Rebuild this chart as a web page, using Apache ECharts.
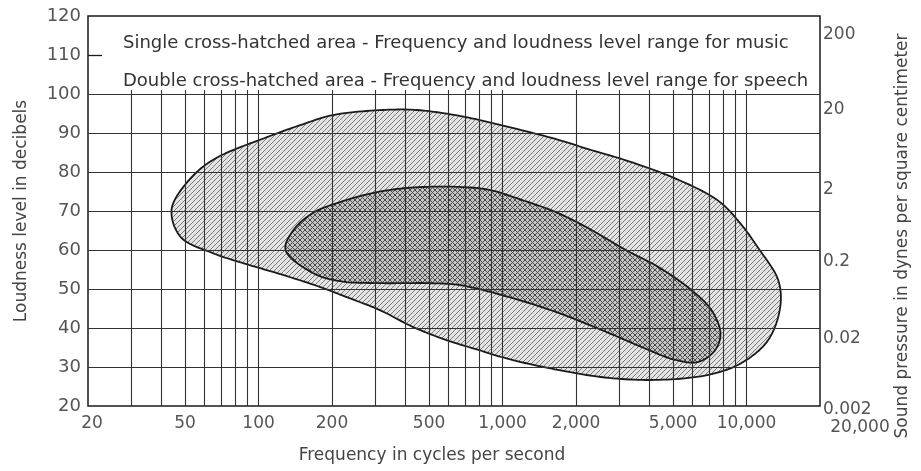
<!DOCTYPE html>
<html>
<head>
<meta charset="utf-8">
<script src="https://cdn.jsdelivr.net/npm/echarts@6/dist/echarts.min.js"></script>
<style>
  html, body { margin: 0; padding: 0; background: #fff; }
  #chart { width: 921px; height: 471px; }
</style>
</head>
<body>
<div id="chart"></div>
<script>
// outline of the music range (frequency in Hz, loudness in dB)
var musicFreq = [44, 51, 65, 109, 148, 202, 323, 445, 666, 1066, 1706, 2260, 3200, 5120, 7670, 9520, 11170, 13480, 13740, 12270, 9520, 6980, 4365, 2730, 1706, 1066, 804, 589, 428, 314, 230, 179, 123, 90, 65, 48]
var musicDb = [70.3, 77.4, 83.1, 89, 92, 94.6, 95.9, 95.9, 94.4, 91.5, 88.2, 85.8, 83.0, 78.3, 72.6, 66.5, 60.5, 52.3, 45.4, 36.9, 31, 28, 26.7, 27.2, 29.2, 32.0, 34.3, 36.9, 40.3, 44.6, 47.9, 50.5, 53.8, 56.3, 59.2, 63.3]

// outline of the speech range
var speechFreq = [129, 139, 167, 216, 294, 405, 647, 883, 1205, 1656, 2260, 3200, 4365, 5950, 7180, 7820, 7450, 6350, 5120, 3720, 2730, 1706, 1066, 666, 502, 314, 216, 167]
var speechDb = [60, 65.1, 69.5, 72.3, 74.6, 75.9, 76.2, 75.4, 72.8, 69.7, 65.5, 60, 55.6, 49.7, 44.6, 38.7, 34.4, 31.3, 31.8, 35.1, 38.7, 43.8, 47.9, 51, 51.5, 51.5, 52, 54.1]

// axes
var freqLabels = [20, 50, 100, 200, 500, 1000, 2000, 5000, 10000, 20000]
var freqLabelText = ['20', '50', '100', '200', '500', '1,000', '2,000', '5,000', '10,000', '20,000']
var gridFreqs = [30, 40, 50, 60, 70, 80, 90, 100, 200, 300, 400, 500, 600, 700, 800, 900, 1000, 2000, 3000, 4000, 5000, 6000, 7000, 8000, 9000, 10000]
var gridDb = [30, 40, 50, 60, 70, 80, 90, 100]
var pressureLabels = ['0.002', '0.02', '0.2', '2', '20', '200']
var noteLines = [
  'Single cross-hatched area - Frequency and loudness level range for music',
  'Double cross-hatched area - Frequency and loudness level range for speech'
]

var FONT = 'DejaVu Sans'
var xMin = Math.log10(20)
var xMax = Math.log10(20000)

function hatch (size, color, bg, cross) {
  var c = document.createElement('canvas')
  c.width = c.height = size
  var g = c.getContext('2d')
  g.fillStyle = bg
  g.fillRect(0, 0, size, size)
  g.strokeStyle = color
  g.lineWidth = 1
  g.beginPath()
  g.moveTo(-1, size + 1); g.lineTo(size + 1, -1)
  g.moveTo(-1, 1); g.lineTo(1, -1)
  g.moveTo(size - 1, size + 1); g.lineTo(size + 1, size - 1)
  if (cross) {
    g.moveTo(-1, -1); g.lineTo(size + 1, size + 1)
    g.moveTo(size - 1, -1); g.lineTo(size + 1, 1)
    g.moveTo(-1, size - 1); g.lineTo(1, size + 1)
  }
  g.stroke()
  return c
}

function toPoints (freqs, dbs) {
  return freqs.map(function (f, i) { return [Math.log10(f), dbs[i]] })
}

// closed centripetal catmull-rom through the pixel points, so the outline is smooth
function smoothClosed (pts, steps) {
  var n = pts.length
  var out = []
  function lerp (a, b, ta, tb, t) {
    var k = (t - ta) / (tb - ta)
    return [a[0] + (b[0] - a[0]) * k, a[1] + (b[1] - a[1]) * k]
  }
  function knot (t, a, b) {
    return t + Math.pow(Math.hypot(b[0] - a[0], b[1] - a[1]), 0.5) || t + 1e-4
  }
  for (var i = 0; i < n; i++) {
    var p0 = pts[(i - 1 + n) % n], p1 = pts[i], p2 = pts[(i + 1) % n], p3 = pts[(i + 2) % n]
    var t0 = 0, t1 = knot(t0, p0, p1), t2 = knot(t1, p1, p2), t3 = knot(t2, p2, p3)
    for (var s = 0; s < steps; s++) {
      var t = t1 + (t2 - t1) * s / steps
      var a1 = lerp(p0, p1, t0, t1, t), a2 = lerp(p1, p2, t1, t2, t), a3 = lerp(p2, p3, t2, t3, t)
      var b1 = lerp(a1, a2, t0, t2, t), b2 = lerp(a2, a3, t1, t3, t)
      out.push(lerp(b1, b2, t1, t2, t))
    }
  }
  return out
}

function areaSeries (freqs, dbs, pattern, z) {
  return {
    type: 'custom',
    z: z,
    silent: true,
    data: toPoints(freqs, dbs),
    renderItem: function (params, api) {
      if (params.dataIndex !== 0) return
      var pts = toPoints(freqs, dbs).map(function (p) { return api.coord(p) })
      return {
        type: 'polygon',
        shape: { points: smoothClosed(pts, 12) },
        style: {
          fill: { image: pattern, repeat: 'repeat' },
          stroke: '#1a1a1a',
          lineWidth: 1.8,
          lineJoin: 'round'
        }
      }
    }
  }
}

var gridLines = []
gridFreqs.forEach(function (f) {
  gridLines.push([{ coord: [Math.log10(f), 20] }, { coord: [Math.log10(f), 101] }])
})
gridDb.forEach(function (d) {
  gridLines.push([{ coord: [xMin, d] }, { coord: [xMax, d] }])
})

// the right-hand labels sit a little below their lines, less so near the bottom
var pressureRich = {}
var pressurePad = [8, 22, 24, 36, 32, 38]
pressurePad.forEach(function (p, i) {
  pressureRich['p' + i] = { fontSize: 17, color: '#555', padding: [p, 0, 0, 0] }
})

var chart = echarts.init(document.getElementById('chart'))
var option = {
  animation: false,
  backgroundColor: '#fff',
  textStyle: { fontFamily: FONT },
  grid: {
    show: true, left: 88, right: 101, top: 16, bottom: 65,
    borderColor: '#1a1a1a', borderWidth: 1.5
  },
  graphic: noteLines.map(function (t, i) {
    return {
      type: 'text', left: 123, top: 34 + i * 38,
      style: { text: t, font: '18px "' + FONT + '"', fill: '#333' }
    }
  }),
  xAxis: {
    type: 'value',
    min: xMin,
    max: xMax,
    name: 'Frequency in cycles per second',
    nameLocation: 'middle',
    nameGap: 41,
    nameTextStyle: { fontSize: 17, color: '#444', padding: [0, 44, 0, 0] },
    axisLine: { show: false },
    axisTick: { show: false },
    splitLine: { show: false },
    axisLabel: {
      customValues: freqLabels.map(function (f) { return Math.log10(f) }),
      fontSize: 17,
      color: '#555',
      margin: 9,
      formatter: function (v) {
        var best = 0
        freqLabels.forEach(function (f, i) {
          if (Math.abs(Math.log10(f) - v) < Math.abs(Math.log10(freqLabels[best]) - v)) best = i
        })
        if (best === freqLabels.length - 1) return '{last|' + freqLabelText[best] + '}'
        if (best === 0) return '{first|' + freqLabelText[best] + '}'
        return freqLabelText[best]
      },
      rich: {
        last: { fontSize: 17, color: '#555', padding: [4, 0, 0, 80] },
        first: { fontSize: 17, color: '#555', padding: [0, 0, 0, 8] }
      }
    }
  },
  yAxis: [{
    type: 'value',
    min: 20,
    max: 120,
    interval: 10,
    name: 'Loudness level in decibels',
    nameLocation: 'middle',
    nameGap: 58,
    nameTextStyle: { fontSize: 17, color: '#444' },
    axisLine: { show: false },
    axisTick: { show: true, inside: true, length: 14, customValues: [110], lineStyle: { color: '#1a1a1a', width: 1.3 } },
    splitLine: { show: false },
    axisLabel: { fontSize: 18, color: '#555', margin: 7 }
  }, {
    type: 'value',
    position: 'right',
    min: 20,
    max: 120,
    interval: 20,
    name: 'Sound pressure in dynes per square centimeter',
    nameLocation: 'middle',
    nameRotate: 90,
    nameGap: 74,
    nameTextStyle: { fontSize: 17, color: '#444', padding: [0, 50, 0, 0] },
    axisLine: { show: false },
    axisTick: { show: false },
    splitLine: { show: false },
    axisLabel: {
      color: '#555',
      margin: 3,
      verticalAlign: 'middle',
      formatter: function (v) {
        var i = Math.round((v - 20) / 20)
        return '{p' + i + '|' + pressureLabels[i] + '}'
      },
      rich: pressureRich
    }
  }],
  series: [
    areaSeries(musicFreq, musicDb, hatch(5, '#7a7a7a', '#e4e4e4', false), 2),
    areaSeries(speechFreq, speechDb, hatch(5, '#4a4a4a', '#c6c6c6', true), 3),
    {
      type: 'line',
      z: 5,
      data: [],
      silent: true,
      markLine: {
        silent: true,
        symbol: 'none',
        label: { show: false },
        lineStyle: { type: 'solid', color: '#333', width: 1.1 },
        emphasis: { disabled: true },
        data: gridLines
      }
    }
  ]
}
chart.setOption(option)
</script>
</body>
</html>
